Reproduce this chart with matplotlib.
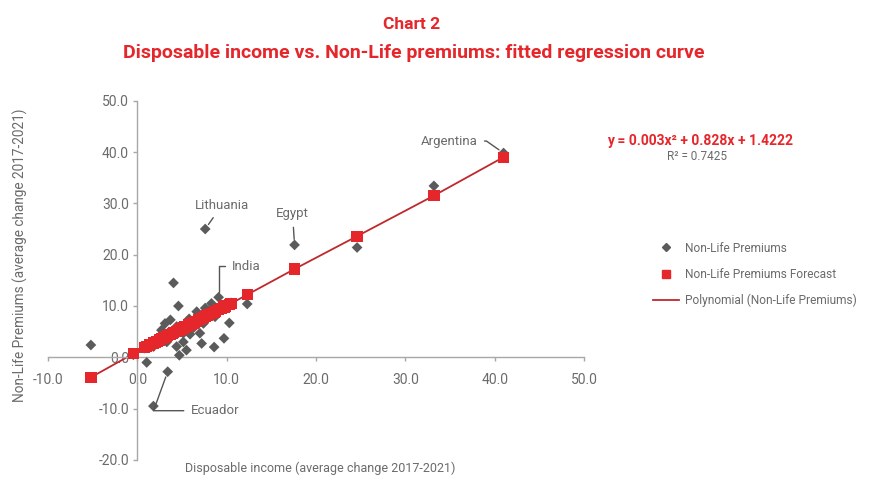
import matplotlib
matplotlib.use("Agg")
import matplotlib.pyplot as plt
from matplotlib.lines import Line2D

# disposable income vs non-life premiums (average change 2017-2021), one entry per country
income = [-5.2, -0.45, 0.8, 1.05, 1.4, 1.8, 1.8, 2.0, 2.2, 2.5, 2.7, 3.0, 3.1, 3.3, 3.4,
          3.7, 3.9, 4.05, 4.4, 4.4, 4.6, 4.7, 4.9, 5.15, 5.15, 5.3, 5.5, 5.8, 5.9, 6.1,
          6.3, 6.4, 6.65, 6.9, 7.0, 7.2, 7.4, 7.6, 7.6, 7.8, 8.0, 8.3, 8.6, 8.7, 9.1,
          9.4, 9.7, 9.9, 10.3, 10.5, 12.3, 17.6, 24.6, 33.2, 41.0]
premiums = [2.4, 0.5, 1.8, -1.0, 2.4, -9.5, 2.1, 3.0, 3.5, 4.0, 5.3, 3.7, 6.6, 3.0, -2.8,
            7.3, 4.8, 14.5, 6.0, 2.1, 10.0, 0.4, 5.6, 4.7, 3.0, 6.2, 1.4, 7.5, 4.5, 6.3,
            5.8, 7.0, 8.9, 7.2, 4.7, 2.7, 6.6, 25.0, 9.6, 8.2, 9.0, 10.5, 2.0, 7.9, 11.7,
            9.6, 3.7, 10.0, 6.7, 10.6, 10.4, 21.9, 21.4, 33.4, 39.8]
forecast = [-3.9, 0.7, 1.9, 2.1, 2.4, 2.8, 2.8, 2.9, 3.1, 3.4, 3.6, 3.8, 3.9, 4.1, 4.2,
            4.5, 4.6, 4.8, 5.1, 5.1, 5.2, 5.3, 5.5, 5.7, 5.7, 5.9, 6.0, 6.3, 6.4, 6.5,
            6.7, 6.8, 7.0, 7.3, 7.4, 7.5, 7.7, 7.9, 7.9, 8.1, 8.3, 8.5, 8.8, 8.9, 9.3,
            9.5, 9.8, 10.0, 10.3, 10.5, 12.2, 17.2, 23.6, 31.5, 39.0]

# labelled countries (index into the arrays above)
labels = ["Argentina", "Lithuania", "Egypt", "India", "Ecuador"]
label_idx = [54, 37, 51, 44, 14]

RED = "#e5262b"
LINE_RED = "#c0282d"
GREY = "#5b5b5b"
AXIS = "#a8a8a8"
TXT = "#6b6b6b"

plt.rcParams["font.family"] = ["Roboto", "DejaVu Sans"]

fig = plt.figure(figsize=(8.84, 4.79), dpi=100)
ax = fig.add_axes([0.0543, 0.0397, 0.6063, 0.7501])

ax.set_xlim(-10, 50)
ax.set_ylim(-20, 50)
ax.set_xticks(range(-10, 51, 10))
ax.set_yticks(range(-20, 51, 10))
ax.set_xticklabels([f"{v:.1f}" for v in range(-10, 51, 10)])
ax.set_yticklabels([f"{v:.1f}" for v in range(-20, 51, 10)])

for s in ["top", "right"]:
    ax.spines[s].set_visible(False)
ax.spines["left"].set_position(("data", 0))
ax.spines["bottom"].set_position(("data", 0))
for s in ["left", "bottom"]:
    ax.spines[s].set_color(AXIS)
    ax.spines[s].set_linewidth(1.0)
ax.tick_params(axis="both", colors=AXIS, labelcolor=TXT, labelsize=10, length=3, width=1)
ax.tick_params(axis="x", pad=8)
ax.tick_params(axis="y", pad=3)

# trend line through the forecast values
pairs = sorted(zip(income, forecast))
ax.plot([p[0] for p in pairs], [p[1] for p in pairs], color=LINE_RED, lw=1.3, zorder=2)
ax.scatter(income, premiums, marker="D", s=30, color=GREY, edgecolors="none", zorder=3)
ax.scatter(income, forecast, marker="s", s=66, color=RED, edgecolors="none", zorder=4)

conn = {
    "Argentina": ((-26, 12), "right", "angle,angleA=0,angleB=145,rad=0"),
    "Lithuania": ((17, 24), "center", "arc3"),
    "Egypt": ((-2, 31), "center", "arc3"),
    "India": ((13, 31), "left", "angle,angleA=0,angleB=90,rad=0"),
    "Ecuador": ((23, -39), "left", "angle,angleA=0,angleB=70,rad=0"),
}
for name, i in zip(labels, label_idx):
    off, ha, cs = conn[name]
    ax.annotate(name, xy=(income[i], premiums[i]), xytext=off, textcoords="offset pixels",
                ha=ha, va="center", fontsize=9.5, color=TXT,
                arrowprops=dict(arrowstyle="-", color="#555555", lw=1.0,
                                shrinkA=3, shrinkB=4, connectionstyle=cs))

ax.set_xlabel("Disposable income (average change 2017-2021)", fontsize=9, color=TXT)
ax.xaxis.set_label_coords(0.507, -0.004)
ax.set_ylabel("Non-Life Premiums (average change 2017-2021)", fontsize=9.8, color=TXT)
ax.yaxis.set_label_coords(-0.037, 0.571)

fig.text(0.466, 0.948, "Chart 2", ha="center", va="center", fontsize=12.5,
         fontweight="bold", color=RED)
fig.text(0.468, 0.89, "Disposable income vs. Non-Life premiums: fitted regression curve",
         ha="center", va="center", fontsize=14, fontweight="bold", color=RED)

fig.text(0.7915, 0.705, "y = 0.003x² + 0.828x + 1.4222", ha="center", va="center",
         fontsize=10, fontweight="bold", color=RED)
fig.text(0.789, 0.673, "R² = 0.7425", ha="center", va="center", fontsize=8.5, color=TXT)

handles = [
    Line2D([], [], marker="D", ls="none", color=GREY, markersize=4),
    Line2D([], [], marker="s", ls="none", color=RED, markersize=6),
    Line2D([], [], color=LINE_RED, lw=1.3),
]
leg = fig.legend(handles, ["Non-Life Premiums", "Non-Life Premiums Forecast",
                           "Polynomial (Non-Life Premiums)"],
                 loc="upper left", bbox_to_anchor=(0.7315, 0.508), frameon=False,
                 fontsize=8.6, labelspacing=1.1, handlelength=2.2, handletextpad=0.55,
                 borderpad=0)
for t in leg.get_texts():
    t.set_color(TXT)

fig.savefig("out.png", dpi=100)
